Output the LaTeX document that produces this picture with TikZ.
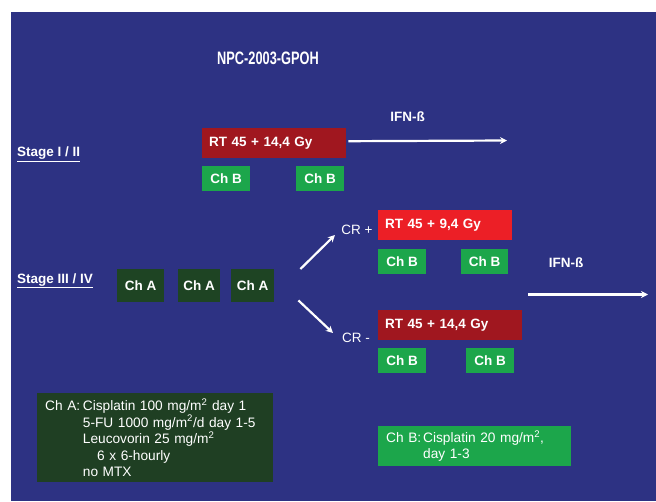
\documentclass[tikz,border=0pt]{standalone}
\usepackage{graphicx}
\usepackage{fontspec}
\setmainfont{Liberation Sans}
\usetikzlibrary{arrows.meta}
\definecolor{bgblue}{HTML}{2D3283}
\definecolor{darkred}{HTML}{A0171F}
\definecolor{brightred}{HTML}{EC1F26}
\definecolor{chgreen}{HTML}{1CA64B}
\definecolor{chdark}{HTML}{1E4423}
\definecolor{legdark}{HTML}{1F3F23}
\tikzset{
  boxtxt/.style={inner sep=0pt, text=white, font=\fontsize{13.5}{16}\selectfont\bfseries},
  rtbox/.style={boxtxt, anchor=north west, minimum height=30pt, inner xsep=7pt, align=left},
  chbbox/.style={boxtxt, fill=chgreen, anchor=north west, minimum width=48pt, minimum height=25pt},
  chabox/.style={boxtxt, fill=chdark, anchor=north west, minimum height=33pt},
  lbl/.style={inner sep=0pt, text=white, font=\fontsize{13.5}{16}\selectfont\bfseries},
  crlbl/.style={inner sep=0pt, text=white, font=\fontsize{13.5}{16}\selectfont},
  arr/.style={draw=white, line width=2.2pt, -{Stealth[length=7pt,width=7pt]}},
  legbox/.style={text=white, anchor=north west, inner xsep=8pt, inner ysep=0pt, align=left,
    font=\fontsize{13.7}{16.5}\selectfont},
}
\begin{document}
\begin{tikzpicture}[x=1pt,y=-1pt]
\useasboundingbox (0,0) rectangle (656,501);
\fill[white] (0,0) rectangle (656,501);
\fill[bgblue] (11,12) rectangle (656,501);

\node[lbl] (title) at (268,58) {\scalebox{0.71}[1]{\fontsize{18}{20}\selectfont\bfseries NPC-2003-GPOH}};

% Stage I / II
\node[lbl, anchor=base west] (st1) at (17,156.5) {\underline{Stage I / II}};
\node[rtbox, fill=darkred, text width=130pt] (rt1) at (202,128) {RT 45 + 14,4 Gy};
\node[chbbox] (cb1) at (202,166) {Ch B};
\node[chbbox] (cb2) at (296,166) {Ch B};
\node[lbl] (ifn1) at (407.5,117) {IFN-ß};
\coordinate (a1e) at (507,140.5);
\draw[arr] ([xshift=2pt,yshift=2pt]rt1.east) -- (a1e);

% Stage III / IV
\node[lbl, anchor=base west] (st3) at (17,283) {\underline{Stage III / IV}};
\node[chabox, minimum width=47pt] (ca1) at (117,269) {Ch A};
\node[chabox, minimum width=42pt] (ca2) at (178,269) {Ch A};
\node[chabox, minimum width=43pt] (ca3) at (231,269) {Ch A};

\node[crlbl] (crp) at (357,230) {CR +};
\node[crlbl] (crm) at (356,338) {CR -};
\coordinate (upe) at (335,235);
\coordinate (dne) at (333,333);
\draw[arr] ([xshift=26pt]ca3.north east) -- (upe);
\draw[arr] ([xshift=24pt,yshift=2pt]ca3.south east) -- (dne);

\node[rtbox, fill=brightred, text width=120pt] (rt2) at (378,210) {RT 45 + 9,4 Gy};
\node[chbbox] (cb3) at (378,249) {Ch B};
\node[chbbox, minimum width=47pt] (cb4) at (461,249) {Ch B};

\node[rtbox, fill=darkred, text width=130pt] (rt3) at (378,310) {RT 45 + 14,4 Gy};
\node[chbbox] (cb5) at (378,348) {Ch B};
\node[chbbox] (cb6) at (466,348) {Ch B};

\node[lbl] (ifn2) at (566,263) {IFN-ß};
\coordinate (a2s) at (528,294.5);
\coordinate (a2e) at (648,294.5);
\draw[arr] (a2s) -- (a2e);

% legends
\node[legbox, fill=legdark, minimum width=236pt, minimum height=89pt, text width=220pt] (legA) at (37,393)
{\makebox[37.7pt][l]{Ch A:}Cisplatin 100 mg/m\textsuperscript{2} day 1\\
\hspace*{37.7pt}5-FU 1000 mg/m\textsuperscript{2}/d day 1-5\\
\hspace*{37.7pt}Leucovorin 25 mg/m\textsuperscript{2}\\
\hspace*{52pt}6 x 6-hourly\\
\hspace*{37.7pt}no MTX};

\node[legbox, fill=chgreen, minimum width=193pt, minimum height=40pt, text width=177pt] (legB) at (378,426)
{\makebox[37pt][l]{Ch B:}Cisplatin 20 mg/m\textsuperscript{2},\\
\hspace*{37pt}day 1-3};
\end{tikzpicture}
\end{document}
